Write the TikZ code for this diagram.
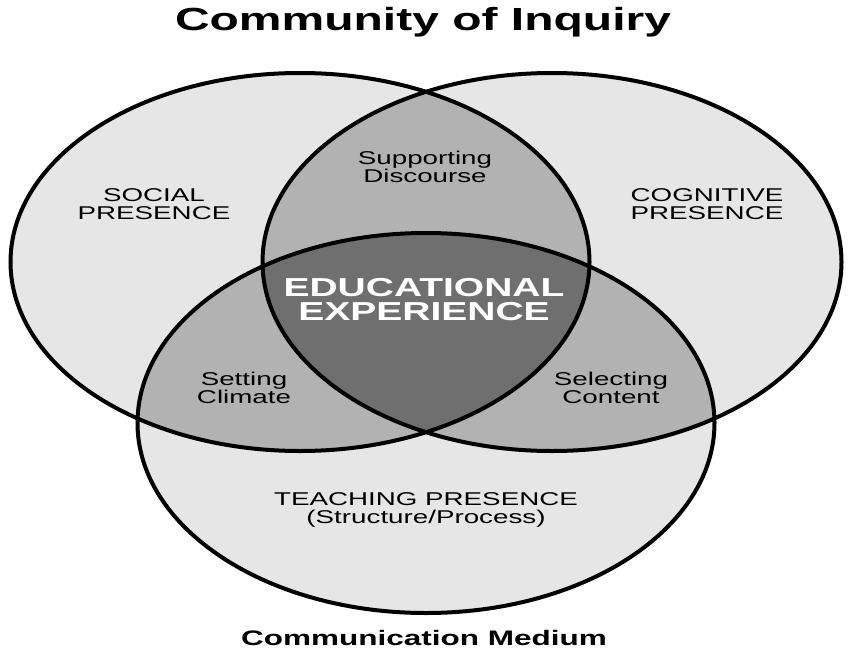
\documentclass[tikz,border=0pt]{standalone}
\usepackage{fontspec}
\setmainfont{Liberation Sans}
\newfontfamily\widefont[FakeStretch=1.5]{Liberation Sans}
\definecolor{outerfill}{HTML}{E6E6E6}
\definecolor{pairfill}{HTML}{B2B2B2}
\definecolor{corefill}{HTML}{6F6F6F}
\tikzset{
  ringline/.style={draw=black, line width=4pt},
  lbl/.style={font=\widefont\fontsize{18.5}{17.5}\selectfont, align=center, inner sep=0pt, text=black},
  heading/.style={font=\widefont\bfseries\fontsize{32}{36}\selectfont, inner sep=0pt, anchor=base},
  corelbl/.style={font=\widefont\bfseries\fontsize{26}{24}\selectfont, align=center, inner sep=0pt, text=white}
}
\def\ellL{(300,262) ellipse [x radius=289.5, y radius=189]}
\def\ellR{(552,262) ellipse [x radius=289.5, y radius=189]}
\def\ellB{(426,423) ellipse [x radius=288.5, y radius=190]}
\begin{document}
\begin{tikzpicture}[x=1pt,y=-1pt]
\fill[white] (0,0) rectangle (851,653);
\useasboundingbox (0,0) rectangle (851,653);
% outer fills
\fill[outerfill] \ellL;
\fill[outerfill] \ellR;
\fill[outerfill] \ellB;
% pairwise overlaps
\begin{scope}
  \clip \ellL;
  \fill[pairfill] \ellR;
  \fill[pairfill] \ellB;
\end{scope}
\begin{scope}
  \clip \ellR;
  \fill[pairfill] \ellB;
\end{scope}
% triple overlap
\begin{scope}
  \clip \ellL;
  \clip \ellR;
  \fill[corefill] \ellB;
\end{scope}
% outlines
\draw[ringline] \ellL;
\draw[ringline] \ellR;
\draw[ringline] \ellB;
% texts
\node[heading] (title) at (423,30) {Community of Inquiry};
\node[lbl] (social) at (154,204) {SOCIAL\\PRESENCE};
\node[lbl] (cognitive) at (707,204) {COGNITIVE\\PRESENCE};
\node[lbl] (discourse) at (425,167) {Supporting\\Discourse};
\node[corelbl] (core) at (424,300) {EDUCATIONAL\\EXPERIENCE};
\node[lbl] (climate) at (244,388) {Setting\\Climate};
\node[lbl] (content) at (611,388) {Selecting\\Content};
\node[lbl] (teaching) at (426,510) {TEACHING PRESENCE\\(Structure/Process)};
\node[heading, font=\widefont\bfseries\fontsize{21}{24}\selectfont] (medium) at (424,645) {Communication Medium};
\end{tikzpicture}
\end{document}
